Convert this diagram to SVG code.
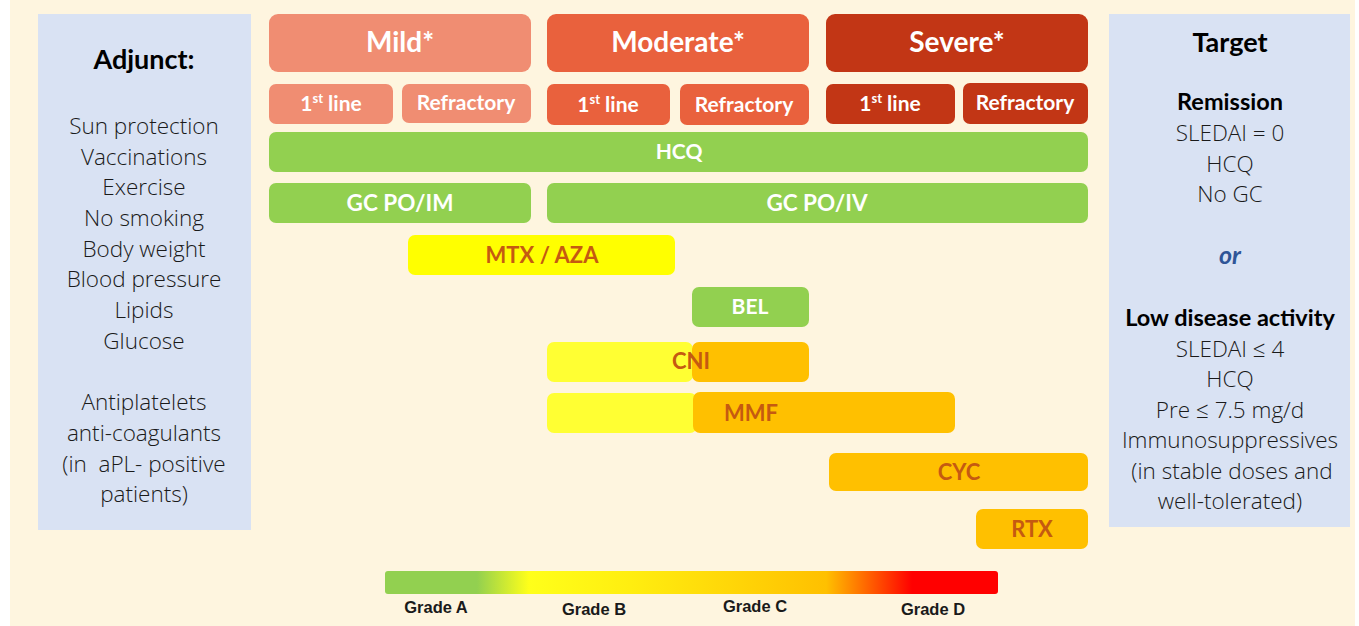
<svg xmlns="http://www.w3.org/2000/svg" width="1359" height="626" viewBox="0 0 1359 626">
<defs>
<linearGradient id="grade" x1="0" y1="0" x2="1" y2="0">
<stop offset="0" stop-color="#92D050"/>
<stop offset="0.15" stop-color="#92D050"/>
<stop offset="0.235" stop-color="#FFFF1A"/>
<stop offset="0.4" stop-color="#FFEE10"/>
<stop offset="0.72" stop-color="#FFC000"/>
<stop offset="0.86" stop-color="#FF0000"/>
<stop offset="1" stop-color="#FF0000"/>
</linearGradient>
</defs>
<style>
.panel{fill:#D9E2F3}
.mild{fill:#F08D72}
.mod{fill:#E9613D}
.sev{fill:#C23615}
.green{fill:#92D050}
.yel{fill:#FFFF00}
.yel2{fill:#FFFF33}
.ora{fill:#FFC000}
.hd{font-family:Lato,"Open Sans",sans-serif;font-weight:bold;fill:#fff;text-anchor:middle}
.dk{font-family:Lato,"Open Sans",sans-serif;font-weight:bold;fill:#C55A11;text-anchor:middle;font-size:22px}
.pt{font-family:"Open Sans",Lato,sans-serif;font-weight:300;fill:#1a1a1a;text-anchor:middle;font-size:22.5px}
.pb{font-family:Lato,"Open Sans",sans-serif;fill:#000;text-anchor:middle;font-weight:bold}
.gr{font-family:"Liberation Sans",Arial,sans-serif;font-weight:bold;font-size:16.5px;fill:#1a1a1a;text-anchor:middle}
</style>
<rect x="10" y="0" width="1345" height="626" fill="#FEF5DF"/>

<g id="adjunct">
<rect class="panel" x="38" y="14" width="213" height="516"/>
<text class="pb" x="144" y="69" font-size="27">Adjunct:</text>
<text class="pt" x="144" y="134">Sun protection</text>
<text class="pt" x="144" y="165">Vaccinations</text>
<text class="pt" x="144" y="195">Exercise</text>
<text class="pt" x="144" y="226">No smoking</text>
<text class="pt" x="144" y="257">Body weight</text>
<text class="pt" x="144" y="287">Blood pressure</text>
<text class="pt" x="144" y="318">Lipids</text>
<text class="pt" x="144" y="349">Glucose</text>
<text class="pt" x="144" y="410">Antiplatelets</text>
<text class="pt" x="144" y="441">anti-coagulants</text>
<text class="pt" x="144" y="472" xml:space="preserve">(in  aPL- positive</text>
<text class="pt" x="144" y="502">patients)</text>
</g>

<g id="target">
<rect class="panel" x="1109" y="14" width="241" height="513"/>
<text class="pb" x="1230" y="52" font-size="27">Target</text>
<text class="pb" x="1230" y="110" font-size="23.5">Remission</text>
<text class="pt" x="1230" y="141">SLEDAI = 0</text>
<text class="pt" x="1230" y="172">HCQ</text>
<text class="pt" x="1230" y="202">No GC</text>
<text x="1230" y="264" font-family="Lato,'Open Sans',sans-serif" font-size="25" font-weight="bold" font-style="italic" fill="#2F5597" text-anchor="middle">or</text>
<text class="pb" x="1230" y="326" font-size="23.5">Low disease activity</text>
<text class="pt" x="1230" y="357">SLEDAI ≤ 4</text>
<text class="pt" x="1230" y="387">HCQ</text>
<text class="pt" x="1230" y="418">Pre ≤ 7.5 mg/d</text>
<text class="pt" x="1230" y="448">Immunosuppressives</text>
<text class="pt" x="1232" y="479">(in stable doses and</text>
<text class="pt" x="1230" y="509">well-tolerated)</text>
</g>

<g id="mild">
<rect class="mild" x="269" y="14" width="262" height="58" rx="9"/>
<text class="hd" x="400" y="52" font-size="28">Mild*</text>
</g>
<g id="moderate">
<rect class="mod" x="547" y="14" width="262" height="58" rx="9"/>
<text class="hd" x="678" y="52" font-size="28">Moderate*</text>
</g>
<g id="severe">
<rect class="sev" x="826" y="14" width="262" height="58" rx="9"/>
<text class="hd" x="957" y="52" font-size="28">Severe*</text>
</g>

<g id="mild-1st">
<rect class="mild" x="269" y="84" width="124" height="40" rx="7"/>
<text class="hd" x="331" y="111" font-size="21">1<tspan font-size="13" dy="-8">st</tspan><tspan dy="8"> line</tspan></text>
</g>
<g id="mild-ref">
<rect class="mild" x="402" y="84" width="129" height="39" rx="7"/>
<text class="hd" x="466" y="110" font-size="21">Refractory</text>
</g>
<g id="mod-1st">
<rect class="mod" x="547" y="84" width="123" height="41" rx="7"/>
<text class="hd" x="608" y="112" font-size="21">1<tspan font-size="13" dy="-8">st</tspan><tspan dy="8"> line</tspan></text>
</g>
<g id="mod-ref">
<rect class="mod" x="680" y="84" width="129" height="41" rx="7"/>
<text class="hd" x="744" y="112" font-size="21">Refractory</text>
</g>
<g id="sev-1st">
<rect class="sev" x="826" y="84" width="129" height="40" rx="7"/>
<text class="hd" x="890" y="111" font-size="21">1<tspan font-size="13" dy="-8">st</tspan><tspan dy="8"> line</tspan></text>
</g>
<g id="sev-ref">
<rect class="sev" x="963" y="83" width="125" height="41" rx="7"/>
<text class="hd" x="1025" y="110" font-size="21">Refractory</text>
</g>

<g id="hcq">
<rect class="green" x="269" y="132" width="819" height="40" rx="7"/>
<text class="hd" x="679" y="159" font-size="21">HCQ</text>
</g>
<g id="gc-po-im">
<rect class="green" x="269" y="183" width="262" height="40" rx="7"/>
<text class="hd" x="400" y="211" font-size="22.5">GC PO/IM</text>
</g>
<g id="gc-po-iv">
<rect class="green" x="547" y="183" width="541" height="40" rx="7"/>
<text class="hd" x="817" y="211" font-size="22.5">GC PO/IV</text>
</g>

<g id="mtx-aza">
<rect class="yel" x="408" y="235" width="267" height="40" rx="7"/>
<text class="dk" x="542" y="263">MTX / AZA</text>
</g>
<g id="bel">
<rect class="green" x="692" y="287" width="117" height="40" rx="7"/>
<text class="hd" x="750" y="314" font-size="21">BEL</text>
</g>
<g id="cni">
<rect class="yel2" x="547" y="342" width="146" height="40" rx="7"/>
<rect class="ora" x="692" y="342" width="117" height="40" rx="7"/>
<text class="dk" x="691" y="369">CNI</text>
</g>
<g id="mmf">
<rect class="yel2" x="547" y="393" width="150" height="40" rx="7"/>
<rect class="ora" x="693" y="392" width="262" height="41" rx="7"/>
<text class="dk" x="751" y="421" font-size="23.5">MMF</text>
</g>
<g id="cyc">
<rect class="ora" x="829" y="453" width="259" height="38" rx="7"/>
<text class="dk" x="959" y="480">CYC</text>
</g>
<g id="rtx">
<rect class="ora" x="976" y="509" width="112" height="40" rx="7"/>
<text class="dk" x="1032" y="537">RTX</text>
</g>

<g id="legend">
<rect x="385" y="571" width="613" height="23" rx="3" fill="url(#grade)"/>
<text class="gr" x="436" y="613">Grade A</text>
<text class="gr" x="594" y="615">Grade B</text>
<text class="gr" x="755" y="612">Grade C</text>
<text class="gr" x="933" y="615">Grade D</text>
</g>
<g id="connectors"/>
</svg>
